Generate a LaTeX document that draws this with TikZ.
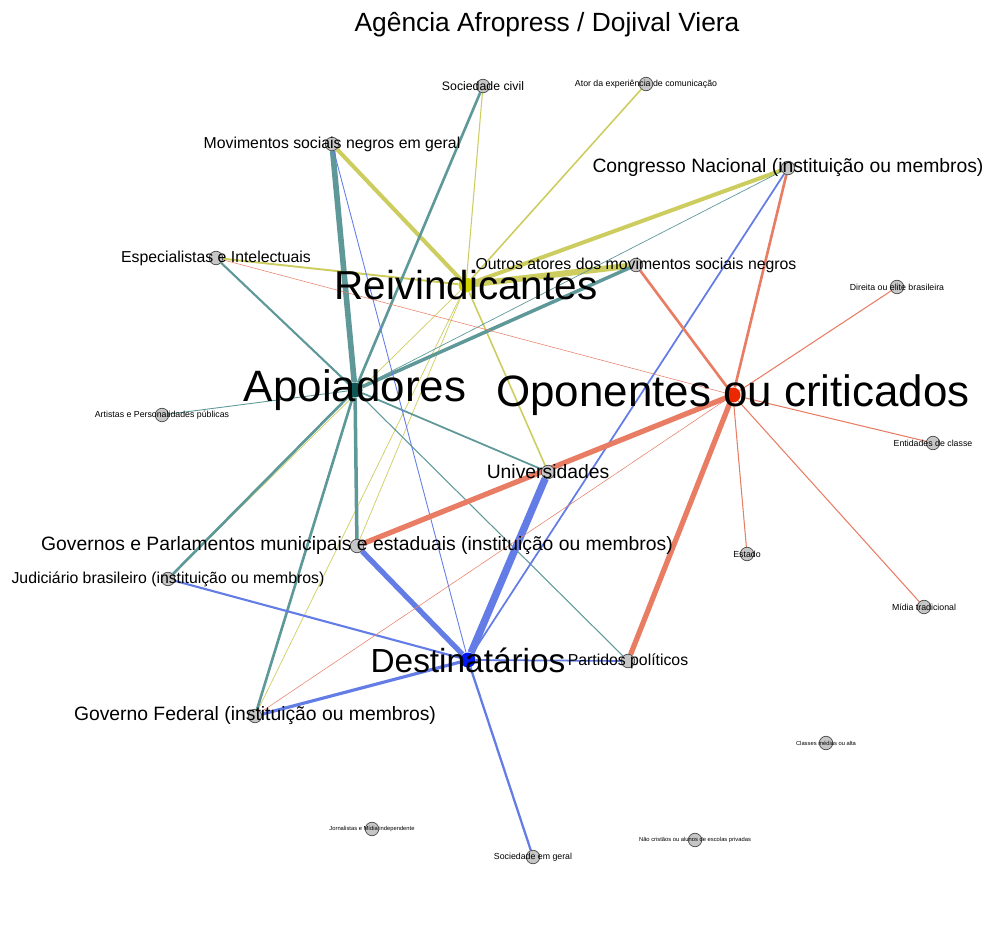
\documentclass[tikz,border=0pt]{standalone}
\usepackage{fontspec}
\setmainfont{Liberation Sans}
\usetikzlibrary{backgrounds}
\definecolor{corReiv}{RGB}{205,205,95}
\definecolor{corApoio}{RGB}{95,152,152}
\definecolor{corDest}{RGB}{100,125,230}
\definecolor{corOpon}{RGB}{232,125,100}
\definecolor{hubReiv}{RGB}{210,210,0}
\definecolor{hubApoio}{RGB}{15,85,85}
\definecolor{hubDest}{RGB}{0,25,240}
\definecolor{hubOpon}{RGB}{235,40,0}
\newcommand{\fs}[1]{\fontsize{#1}{#1}\selectfont}

\begin{document}
\begin{tikzpicture}[x=0.02cm, y=-0.02cm,
    ator/.style={circle, draw=gray!60!black, fill=gray!45, line width=0.4pt,
            inner sep=0pt, minimum size=0.27cm},
    polo/.style={circle, inner sep=0pt, minimum size=0.3cm},
    t25/.style={font=\fs{25}}, t23/.style={font=\fs{23}}, t19/.style={font=\fs{19}},
    t11/.style={font=\fs{11}}, t9/.style={font=\fs{9}}, t7/.style={font=\fs{7}},
    t5/.style={font=\fs{5}}, t3/.style={font=\fs{3.3}},
    reivE/.style={corReiv}, apoioE/.style={corApoio},
    destE/.style={corDest}, oponE/.style={corOpon}]
  \useasboundingbox (0,0) rectangle (988,949);

  \node[font=\fs{15}] (titulo) at (547,25) {Agência Afropress / Dojival Viera};

  % atores
  \node[ator, label={[t7]center:Sociedade civil}] (socciv) at (483,86) {};
  \node[ator, label={[t5]center:Ator da experiência de comunicação}] (ator) at (646,84) {};
  \node[ator, label={[t9]center:Movimentos sociais negros em geral}] (movneg) at (332,144) {};
  \node[ator, label={[t11]center:Congresso Nacional (instituição ou membros)}] (congr) at (788,168) {};
  \node[ator, label={[t9]center:Especialistas e Intelectuais}] (espec) at (216,258) {};
  \node[ator, label={[t9]center:Outros atores dos movimentos sociais negros}] (outros) at (636,265) {};
  \node[ator, label={[t5]center:Direita ou elite brasileira}] (direita) at (897,287) {};
  \node[ator, label={[t5]center:Artistas e Personalidades públicas}] (artistas) at (162,415) {};
  \node[ator, label={[t5]center:Entidades de classe}] (entid) at (933,443) {};
  \node[ator, label={[t11]center:Universidades}] (univ) at (548,472) {};
  \node[ator, label={[t11]center:Governos e Parlamentos municipais e estaduais (instituição ou membros)}] (govmun) at (357,546) {};
  \node[ator, label={[t5]center:Estado}] (estado) at (747,554) {};
  \node[ator, label={[t9]center:Judiciário brasileiro (instituição ou membros)}] (judic) at (168,579) {};
  \node[ator, label={[t5]center:Mídia tradicional}] (midia) at (924,607) {};
  \node[ator, label={[t9]center:Partidos políticos}] (partidos) at (628,661) {};
  \node[ator, label={[t11]center:Governo Federal (instituição ou membros)}] (govfed) at (255,716) {};
  \node[ator, label={[t3]center:Classes médias ou alta}] (classes) at (826,743) {};
  \node[ator, label={[t3]center:Jornalistas e Mídia independente}] (jorn) at (372,829) {};
  \node[ator, label={[t3]center:Não cristãos ou alunos de escolas privadas}] (naocr) at (695,840) {};
  \node[ator, label={[t5]center:Sociedade em geral}] (socger) at (533,857) {};

  % polos
  \node[polo, fill=hubReiv, label={[t23]center:Reivindicantes}] (R) at (466,285) {};
  \node[polo, fill=hubApoio, label={[t25]center:Apoiadores}] (A) at (355,390) {};
  \node[polo, fill=hubOpon, label={[t25]center:Oponentes ou criticados}] (O) at (733,395) {};
  \node[polo, fill=hubDest, label={[t19]center:Destinatários}] (D) at (468,660) {};

  \begin{pgfonlayer}{background}
    \foreach \alvo/\w in {socciv/0.6, ator/0.9, movneg/2.3, congr/2.3, espec/1.1,
        outros/3.5, univ/0.9, govmun/0.4, govfed/0.4, judic/0.4}
      \draw[reivE, line width=\w pt] (R) -- (\alvo);
    \foreach \alvo/\w in {socciv/1.5, movneg/3.2, espec/1.2, outros/2, congr/0.4,
        artistas/0.5, univ/1, govmun/2, judic/1.5, govfed/1.5, partidos/0.6}
      \draw[apoioE, line width=\w pt] (A) -- (\alvo);
    \foreach \alvo/\w in {movneg/0.5, congr/1, univ/4.2, govmun/3, judic/1.2,
        govfed/1.8, partidos/1, socger/1.3}
      \draw[destE, line width=\w pt] (D) -- (\alvo);
    \foreach \alvo/\w in {congr/1.5, outros/1.5, direita/0.6, entid/0.6, estado/0.6,
        midia/0.6, govmun/3, partidos/3, espec/0.3, govfed/0.3}
      \draw[oponE, line width=\w pt] (O) -- (\alvo);
  \end{pgfonlayer}
\end{tikzpicture}
\end{document}
